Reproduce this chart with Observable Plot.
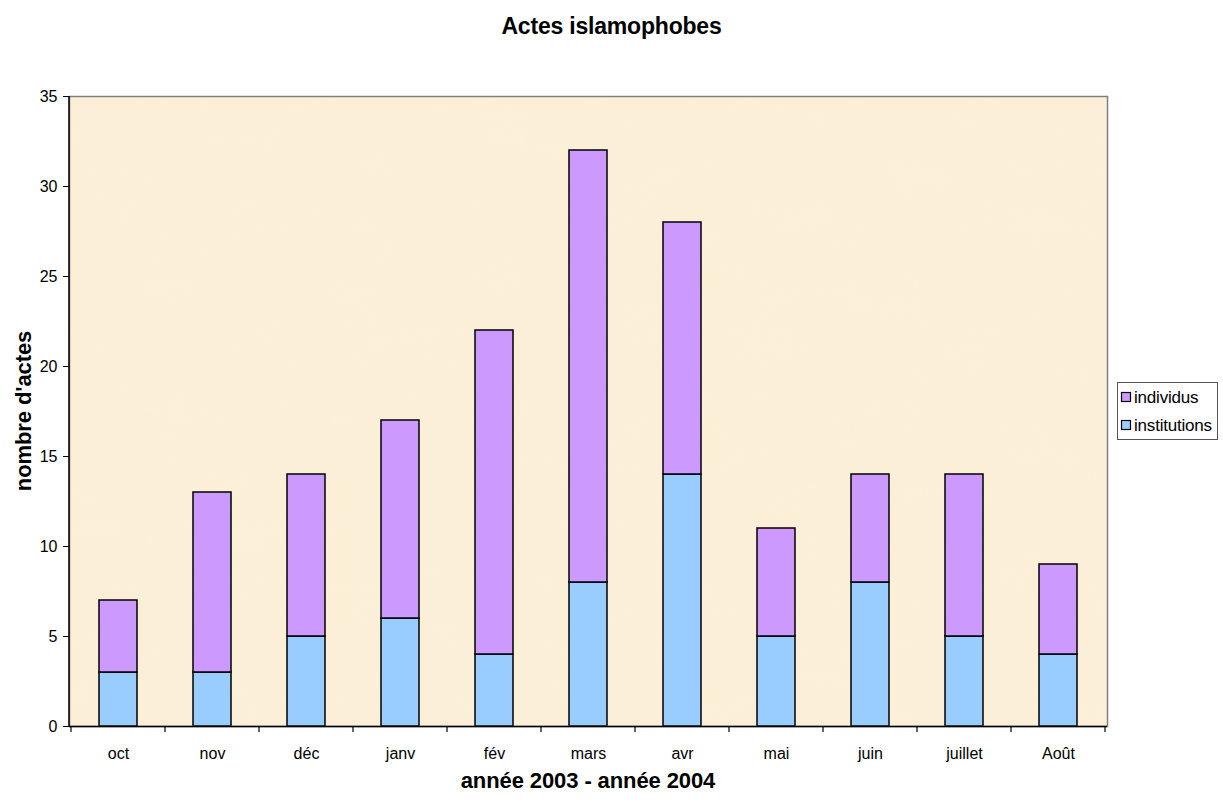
<!DOCTYPE html>
<html><head><meta charset="utf-8">
<script src="https://cdn.jsdelivr.net/npm/d3@7"></script>
<script src="https://cdn.jsdelivr.net/npm/@observablehq/plot@0.6"></script>
<style>
body{margin:0;background:#fff;font-family:"Liberation Sans",Arial,sans-serif;}
</style>
</head><body><div id="chart"></div>
<script>
const months = ["oct","nov","déc","janv","fév","mars","avr","mai","juin","juillet","Août"];
const institutions = [3,3,5,6,4,8,14,5,8,5,4];
const individus = [4,10,9,11,18,24,14,6,6,9,5];
const series = ["institutions","individus"];
const colors = ["#99CCFF","#CC99FF"];
const legendOrder = ["individus","institutions"];
const yTicks = [0,5,10,15,20,25,30,35];
const title = "Actes islamophobes";
const xTitle = "année 2003 - année 2004";
const yTitle = "nombre d'actes";

const data = months.flatMap((m,i)=>[
  {month:m, serie:"institutions", value:institutions[i]},
  {month:m, serie:"individus", value:individus[i]}
]);

(function(){
const W = 1223, H = 804;
const plot = Plot.plot({
  width: W, height: H,
  marginLeft: 69, marginRight: 116, marginTop: 96, marginBottom: 78,
  style: {fontFamily:'"Liberation Sans", Arial, sans-serif', fontSize:"16px", background:"white", color:"black", overflow:"visible"},
  x: {domain: months, paddingInner: 0.6, paddingOuter: 0.3, label: null},
  y: {domain: [0,35], label: null},
  color: {domain: series, range: colors},
  marks: [
    Plot.frame({fill:"#FCEFD8", stroke:"none"}),
    Plot.barY(data, {x:"month", y:"value", fill:"serie", stroke:"black", strokeWidth:1.5}),
    Plot.frame({stroke:"#808080", strokeWidth:1.5}),
    Plot.ruleY([0], {stroke:"black", strokeWidth:1.5}),
    Plot.axisY({ticks: yTicks, tickSize: 6, tickPadding: 6, label: null, fontSize: 16}),
    Plot.axisX({tickSize: 0, tickPadding: 21, label: null, fontSize: 16})
  ]
});
document.getElementById("chart").appendChild(plot);

const svg = d3.select(plot);
const xs = plot.scale("x");
const pL = 69, pR = W - 116, pT = 96, pB = H - 78;

// parchment texture
const defs = svg.insert("defs", ":first-child");
const f = defs.append("filter").attr("id","parch").attr("filterUnits","userSpaceOnUse")
  .attr("x",pL).attr("y",pT).attr("width",pR-pL).attr("height",pB-pT);
f.append("feTurbulence").attr("type","fractalNoise").attr("baseFrequency","0.015 0.025").attr("numOctaves",4).attr("seed",7).attr("result","n");
f.append("feColorMatrix").attr("in","n").attr("type","matrix")
  .attr("values","0 0 0 0 0.96  0 0 0 0 0.87  0 0 0 0 0.70  1.6 0 0 0 -0.7");
const frameEl = svg.select('[aria-label="frame"]').node();
const tex = document.createElementNS("http://www.w3.org/2000/svg","rect");
tex.setAttribute("x", pL); tex.setAttribute("y", pT);
tex.setAttribute("width", pR-pL); tex.setAttribute("height", pB-pT);
tex.setAttribute("fill", "white");
tex.setAttribute("filter","url(#parch)"); tex.setAttribute("opacity","0.6");
frameEl.parentNode.insertBefore(tex, frameEl.nextSibling);

// left axis line
svg.append("line").attr("x1",pL).attr("x2",pL).attr("y1",pT).attr("y2",pB).attr("stroke","black").attr("stroke-width",1.5);

// x boundary ticks
const step = xs.step;
const c0 = xs.apply(months[0]) + xs.bandwidth/2;
for (let i = 0; i <= months.length; i++) {
  const px = c0 - step/2 + i*step;
  svg.append("line").attr("x1",px).attr("x2",px).attr("y1",pB).attr("y2",pB+6).attr("stroke","black").attr("stroke-width",1.2);
}

// titles
svg.append("text").attr("x",W/2).attr("y",34).attr("text-anchor","middle").attr("font-weight","bold").attr("font-size",23).attr("letter-spacing","-0.2").text(title);
svg.append("text").attr("x",(pL+pR)/2).attr("y",788).attr("text-anchor","middle").attr("font-weight","bold").attr("font-size",22).attr("letter-spacing","-0.1").text(xTitle);
svg.append("text").attr("transform",`translate(31,${(pT+pB)/2}) rotate(-90)`).attr("text-anchor","middle").attr("font-weight","bold").attr("font-size",22).attr("letter-spacing","-0.1").text(yTitle);

// legend
const lg = svg.append("g").attr("text-anchor","start");
lg.append("rect").attr("x",1117.5).attr("y",382.5).attr("width",100).attr("height",57).attr("fill","white").attr("stroke","#555").attr("stroke-width",1);
const cs = plot.scale("color");
legendOrder.forEach((s,i)=>{
  const y = 392 + i*28;
  lg.append("rect").attr("x",1121.5).attr("y",y+0.5).attr("width",9).attr("height",9).attr("fill",cs.apply(s)).attr("stroke","black").attr("stroke-width",1.2);
  lg.append("text").attr("x",1134).attr("y",y+11).attr("text-anchor","start").attr("font-size",17).attr("letter-spacing","-0.2").text(s);
});
})();
</script>
</body></html>
